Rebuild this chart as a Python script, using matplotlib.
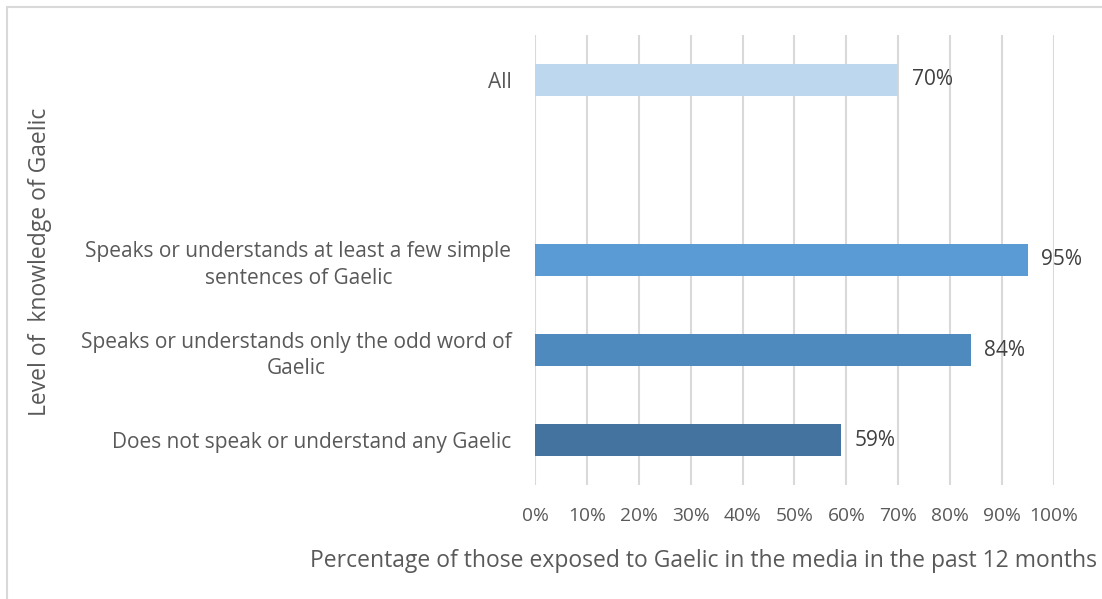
import matplotlib.pyplot as plt
from matplotlib.patches import Rectangle

plt.rcParams['font.family'] = ['Open Sans', 'DejaVu Sans']

# === Data ===
categories = ["Does not speak or understand any Gaelic",
              "Speaks or understands only the odd word of\nGaelic",
              "Speaks or understands at least a few simple\nsentences of Gaelic",
              "",
              "All"]
values = [59, 84, 95, None, 70]
colors = ["#43739E", "#4E8ABE", "#5B9BD5", None, "#BDD7EE"]
xticks = list(range(0, 101, 10))
xticklabels = [f"{t}%" for t in xticks]

fig = plt.figure(figsize=(11.02, 5.99), dpi=100)
ax = fig.add_axes([0.4855, 0.1903, 0.9564 - 0.4855, 0.9416 - 0.1903])

# outer frame
fig.patches.append(Rectangle((7 / 1102, -0.05), 1.2, 1 - 7 / 599 + 0.05,
                             transform=fig.transFigure, fill=False,
                             edgecolor="#D9D9D9", linewidth=1.5))

for i, (v, c) in enumerate(zip(values, colors)):
    if v is None:
        continue
    ax.barh(i, v, height=0.345, color=c, zorder=2)
    ax.text(v + 2.6, i, f"{v}%", va="center", ha="left",
            fontsize=15, color="#404040")

ax.set_xlim(0, 100)
ax.set_ylim(-0.5, 4.5)
ax.set_xticks(xticks)
ax.set_xticklabels(xticklabels, fontsize=13.8, color="#595959")
ax.set_yticks(range(len(categories)))
ax.set_yticklabels(categories, fontsize=15, color="#595959", multialignment="center",
                   linespacing=1.35)
ax.tick_params(axis="both", length=0)
ax.tick_params(axis="x", pad=16)
ax.tick_params(axis="y", pad=17)
ax.grid(axis="x", color="#D9D9D9", linewidth=1.5, zorder=0)
for s in ax.spines.values():
    s.set_visible(False)

fig.text(703 / 1102, 1 - 561 / 599, "Percentage of those exposed to Gaelic in the media in the past 12 months",
         ha="center", va="center", fontsize=16.5, color="#595959")
fig.text(40 / 1102, 1 - 262 / 599, "Level of  knowledge of Gaelic", rotation=90,
         ha="center", va="center", fontsize=16.5, color="#595959")

fig.savefig("out.png", dpi=100)
